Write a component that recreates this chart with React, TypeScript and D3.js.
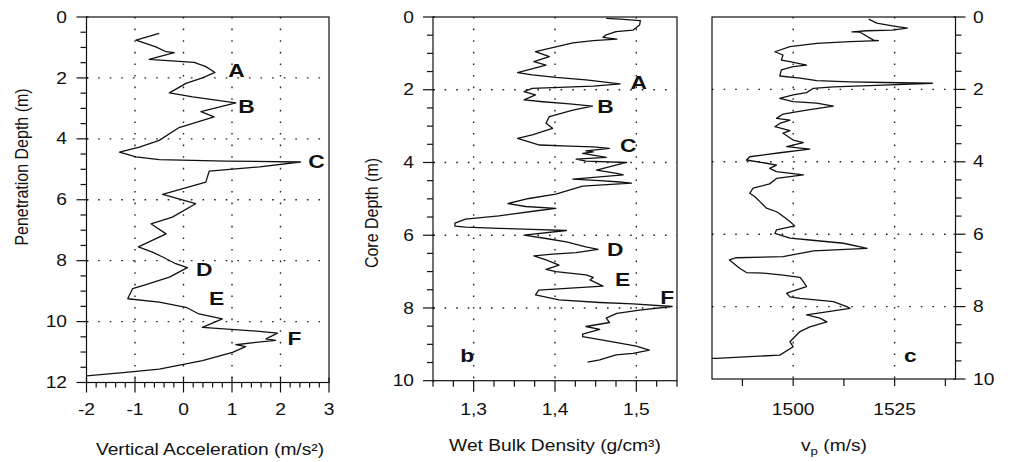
import React from 'react';
import * as d3 from 'd3';

// depth (m), vertical acceleration (m/s2)
const accelProfile: [number, number][] = [
  [0.54, -0.5], [0.76, -0.98], [0.98, -0.57], [1.14, -0.36], [1.17, -0.19], [1.39, -0.71], [1.49, 0.22],
  [1.63, 0.46], [1.82, 0.65], [2.0, 0.39], [2.18, 0.05], [2.49, -0.29], [2.62, 0.19], [2.73, 0.67],
  [2.82, 1.08], [3.11, 0.36], [3.28, 0.63], [3.63, -0.09], [4.05, -0.5], [4.27, -0.91], [4.44, -1.32],
  [4.59, -0.98], [4.68, -0.5], [4.73, 0.87], [4.76, 2.41], [4.92, 1.57], [5.06, 0.53], [5.42, 0.46],
  [5.82, -0.43], [6.13, 0.25], [6.57, -0.23], [6.79, -0.67], [7.12, -0.36], [7.55, -0.93], [7.72, -0.64],
  [7.88, -0.43], [8.1, -0.16], [8.23, 0.08], [8.54, -0.29], [8.82, -0.84], [8.92, -1.05], [9.25, -1.15],
  [9.36, -0.5], [9.53, 0.05], [9.75, 0.32], [9.91, 0.8], [10.19, 0.39], [10.32, 1.56], [10.38, 1.94],
  [10.57, 1.7], [10.62, 1.9], [10.68, 1.49], [10.76, 1.08], [10.82, 1.28], [11.01, 1.01], [11.28, 0.39],
  [11.39, 0.05], [11.56, -0.5], [11.67, -1.19], [11.78, -2.0],
];

// depth (m), wet bulk density (g/cm3)
const densityProfile: [number, number][] = [
  [0.04, 1.463], [0.06, 1.48], [0.1, 1.505], [0.22, 1.504], [0.36, 1.496], [0.4, 1.475], [0.49, 1.463],
  [0.56, 1.459], [0.61, 1.476], [0.65, 1.447], [0.71, 1.422], [0.82, 1.401], [0.95, 1.376], [1.09, 1.393],
  [1.23, 1.374], [1.32, 1.389], [1.53, 1.354], [1.59, 1.372], [1.66, 1.401], [1.73, 1.438], [1.84, 1.48],
  [1.9, 1.447], [1.96, 1.372], [2.05, 1.362], [2.14, 1.376], [2.28, 1.362], [2.33, 1.385], [2.39, 1.418],
  [2.45, 1.446], [2.56, 1.422], [2.74, 1.393], [2.92, 1.389], [3.06, 1.397], [3.24, 1.372], [3.34, 1.354],
  [3.52, 1.381], [3.55, 1.418], [3.57, 1.447], [3.61, 1.467], [3.68, 1.438], [3.71, 1.447], [3.75, 1.434],
  [3.86, 1.463], [3.91, 1.426], [3.96, 1.438], [4.0, 1.488], [4.21, 1.451], [4.3, 1.476], [4.34, 1.484],
  [4.46, 1.422], [4.5, 1.455], [4.53, 1.476], [4.57, 1.494], [4.65, 1.434], [4.87, 1.401], [4.99, 1.368],
  [5.13, 1.342], [5.21, 1.364], [5.26, 1.401], [5.32, 1.38], [5.47, 1.331], [5.56, 1.29], [5.67, 1.277],
  [5.75, 1.277], [5.78, 1.29], [5.81, 1.331], [5.84, 1.372], [5.87, 1.414], [6.0, 1.362], [6.09, 1.389],
  [6.18, 1.414], [6.32, 1.438], [6.39, 1.453], [6.48, 1.426], [6.52, 1.397], [6.57, 1.374], [6.68, 1.389],
  [6.82, 1.405], [6.94, 1.389], [7.0, 1.401], [7.09, 1.438], [7.16, 1.447], [7.23, 1.443], [7.4, 1.459],
  [7.46, 1.414], [7.51, 1.38], [7.64, 1.376], [7.78, 1.405], [7.85, 1.455], [7.89, 1.496], [7.96, 1.544],
  [8.06, 1.504], [8.15, 1.476], [8.28, 1.463], [8.4, 1.467], [8.51, 1.438], [8.59, 1.455], [8.72, 1.434],
  [8.79, 1.434], [8.93, 1.471], [9.05, 1.5], [9.16, 1.516], [9.25, 1.496], [9.29, 1.475], [9.43, 1.455],
  [9.49, 1.44],
];

// depth (m), vp (m/s)
const velocityProfile: [number, number][] = [
  [0.06, 1518.6], [0.17, 1520.6], [0.25, 1524.8], [0.31, 1528.1], [0.36, 1524.4], [0.38, 1518.2],
  [0.41, 1514.5], [0.42, 1516.5], [0.64, 1519.8], [0.65, 1521.0], [0.68, 1514.0], [0.73, 1505.8],
  [0.82, 1499.2], [0.96, 1495.5], [1.05, 1497.5], [1.19, 1497.1], [1.23, 1499.2], [1.33, 1503.3],
  [1.37, 1500.0], [1.46, 1497.1], [1.63, 1496.7], [1.69, 1501.7], [1.76, 1505.8], [1.79, 1514.0],
  [1.81, 1522.3], [1.83, 1534.3], [1.88, 1522.3], [1.93, 1509.9], [1.97, 1505.0], [2.09, 1503.3],
  [2.15, 1500.0], [2.25, 1496.7], [2.34, 1500.0], [2.38, 1505.8], [2.46, 1509.9], [2.57, 1503.3],
  [2.68, 1497.5], [2.8, 1495.9], [2.85, 1499.2], [2.94, 1496.7], [3.03, 1495.5], [3.14, 1499.2],
  [3.21, 1497.5], [3.4, 1500.0], [3.47, 1502.5], [3.58, 1498.4], [3.65, 1504.1], [3.75, 1496.7],
  [3.86, 1489.3], [3.95, 1488.5], [4.04, 1493.4], [4.09, 1495.9], [4.18, 1494.2], [4.27, 1495.9],
  [4.36, 1502.5], [4.46, 1495.9], [4.61, 1494.2], [4.73, 1490.1], [4.87, 1489.3], [4.96, 1490.5],
  [5.1, 1491.8], [5.28, 1493.4], [5.38, 1495.9], [5.47, 1497.1], [5.65, 1499.2], [5.77, 1500.4],
  [5.88, 1495.9], [5.98, 1495.5], [6.11, 1499.2], [6.16, 1504.1], [6.25, 1512.4], [6.39, 1518.2],
  [6.46, 1505.0], [6.62, 1497.5], [6.65, 1486.0], [6.71, 1484.3], [6.94, 1486.8], [7.06, 1488.5],
  [7.08, 1493.4], [7.13, 1497.5], [7.19, 1501.7], [7.31, 1502.5], [7.45, 1503.3], [7.63, 1498.4],
  [7.73, 1499.2], [7.77, 1501.7], [7.86, 1509.9], [8.0, 1513.2], [8.05, 1514.0], [8.23, 1503.3],
  [8.32, 1506.6], [8.42, 1508.3], [8.56, 1504.1], [8.69, 1501.7], [8.97, 1499.2], [9.11, 1500.0],
  [9.34, 1496.7], [9.43, 1481.0], [9.43, 1480.0],
];

// event markers: letter, value, depth
const accelMarks: [string, number, number][] = [
  ['A', 1.09, 1.74], ['B', 1.3, 2.93], ['C', 2.74, 4.74], ['D', 0.43, 8.29], ['E', 0.68, 9.24], ['F', 2.29, 10.56],
];
const densityMarks: [string, number, number][] = [
  ['A', 1.503, 1.79], ['B', 1.462, 2.47], ['C', 1.49, 3.52], ['D', 1.474, 6.38], ['E', 1.483, 7.2], ['F', 1.538, 7.7],
  ['b', 1.292, 9.29],
];
const velocityMarks: [string, number, number][] = [['c', 1528.9, 9.34]];

const accelTicks = [-2, -1, 0, 1, 2, 3];
const densityTicks = [1.3, 1.4, 1.5];
const velocityTicks = [1500, 1525];
const depthTicksA = [0, 2, 4, 6, 8, 10, 12];
const depthTicksB = [0, 2, 4, 6, 8, 10];

const FONT = '"Liberation Sans", Arial, Helvetica, sans-serif';
const SX = 1.2; // the scan is stretched sideways

function Txt(props: any) {
  const { x, y, anchor = 'middle', size = 16, bold = false, rotate = false, children, dy = '0.35em' } = props;
  return (
    <text
      transform={`translate(${x},${y}) scale(${SX},1)${rotate ? ' rotate(-90)' : ''}`}
      textAnchor={anchor}
      dy={dy}
      fontFamily={FONT}
      fontSize={size}
      fontWeight={bold ? 'bold' : 'normal'}
      fill="#111"
    >
      {children}
    </text>
  );
}

function Panel(props: any) {
  const { left, right, top, bottom, domain, depthMax, data, xTicks, xMinor, xFmt, majorX, depthTicks, axisSide, labelX, marks, gridX } = props;
  const x = d3.scaleLinear().domain(domain).range([left, right]);
  const y = d3.scaleLinear().domain([0, depthMax]).range([top, bottom]);
  const line = d3.line<[number, number]>().x(d => x(d[1])).y(d => y(d[0]));
  const minorY = d3.range(0, depthMax + 0.001, 0.5);
  const gridY = depthTicks.filter((t: number) => t > 0 && t < depthMax);
  const ax = axisSide === 'left' ? left : right;
  const dir = axisSide === 'left' ? -1 : 1;
  return (
    <g>
      {gridX.map((t: number) => (
        <line key={'gx' + t} x1={x(t)} x2={x(t)} y1={top} y2={bottom} stroke="#222" strokeWidth={1.4} strokeDasharray="1.6 10" />
      ))}
      {gridY.map((t: number) => (
        <line key={'gy' + t} x1={left} x2={right} y1={y(t)} y2={y(t)} stroke="#222" strokeWidth={1.4} strokeDasharray="1.6 10" />
      ))}
      <path d={line(data) || ''} fill="none" stroke="#111" strokeWidth={1.3} strokeLinejoin="round" />
      <rect x={left} y={top} width={right - left} height={bottom - top} fill="none" stroke="#111" strokeWidth={1.2} />
      {/* depth axis */}
      {minorY.map(t => {
        const major = depthTicks.includes(t);
        return (
          <line key={'ty' + t} x1={ax + (major ? dir * 10 : dir * 6)} x2={ax + (major ? -dir * 2 : 0)} y1={y(t)} y2={y(t)} stroke="#111" strokeWidth={1.2} />
        );
      })}
      {depthTicks.map((t: number) => (
        <Txt key={'ly' + t} x={labelX} y={y(t)} anchor={axisSide === 'left' ? 'end' : 'start'}>{t}</Txt>
      ))}
      {/* value axis */}
      {xMinor.map((t: number) => {
        const major = majorX.some((m: number) => Math.abs(m - t) < 1e-6);
        return (
          <line key={'tx' + t} x1={x(t)} x2={x(t)} y1={bottom + (major ? props.majorUp : 0)} y2={bottom + (major ? props.majorLen : props.minorLen)} stroke="#111" strokeWidth={1.2} />
        );
      })}
      {xTicks.map((t: number) => (
        <Txt key={'lx' + t} x={x(t)} y={409}>{xFmt(t)}</Txt>
      ))}
      {marks.map((m: [string, number, number]) => (
        <Txt key={'m' + m[0]} x={x(m[1])} y={y(m[2])} size={19} bold>{m[0]}</Txt>
      ))}
    </g>
  );
}

export default function App() {
  const stepRange = (a: number, b: number, s: number) => d3.range(0, Math.round((b - a) / s) + 1).map(i => +(a + i * s).toFixed(4));
  return (
    <svg width={1012} height={462} style={{ position: 'absolute', left: 0, top: 0, background: '#fff' }}>
      <rect width={1012} height={462} fill="#fff" />
      <Panel
        left={86.5} right={329} top={17} bottom={382.5} domain={[-2, 3]} depthMax={12}
        data={accelProfile} xTicks={accelTicks} majorX={accelTicks} xMinor={stepRange(-2, 3, 0.2)}
        xFmt={(v: number) => String(v)} depthTicks={depthTicksA} axisSide="left" labelX={67}
        marks={accelMarks} gridX={[-1, 0, 1, 2]} majorUp={-5} majorLen={10} minorLen={5}
      />
      <Panel
        left={433} right={677} top={17} bottom={380.7} domain={[1.25, 1.55]} depthMax={10}
        data={densityProfile} xTicks={densityTicks} majorX={densityTicks} xMinor={stepRange(1.25, 1.55, 0.025)}
        xFmt={(v: number) => d3.format('.1f')(v).replace('.', ',')} depthTicks={depthTicksB} axisSide="left" labelX={414}
        marks={densityMarks} gridX={densityTicks} majorUp={0} majorLen={11} minorLen={6}
      />
      <Panel
        left={712} right={955.5} top={17} bottom={379} domain={[1480, 1540]} depthMax={10}
        data={velocityProfile} xTicks={velocityTicks} majorX={[]} xMinor={stepRange(1487.5, 1537.5, 12.5)}
        xFmt={(v: number) => String(v)} depthTicks={depthTicksB} axisSide="right" labelX={973}
        marks={velocityMarks} gridX={velocityTicks} majorUp={0} majorLen={7} minorLen={7}
      />
      {/* axis titles */}
      <Txt x={210} y={449}>Vertical Acceleration (m/s²)</Txt>
      <Txt x={555} y={445}>Wet Bulk Density (g/cm³)</Txt>
      <text transform={`translate(834,445) scale(${SX},1)`} textAnchor="middle" dy="0.35em" fontFamily={FONT} fontSize={16} fill="#111">
        v<tspan fontSize={11} dy={4}>p</tspan><tspan dy={-4}> (m/s)</tspan>
      </text>
      <Txt x={28} y={167} rotate dy="0">Penetration Depth (m)</Txt>
      <Txt x={378} y={213} rotate dy="0">Core Depth (m)</Txt>
    </svg>
  );
}
